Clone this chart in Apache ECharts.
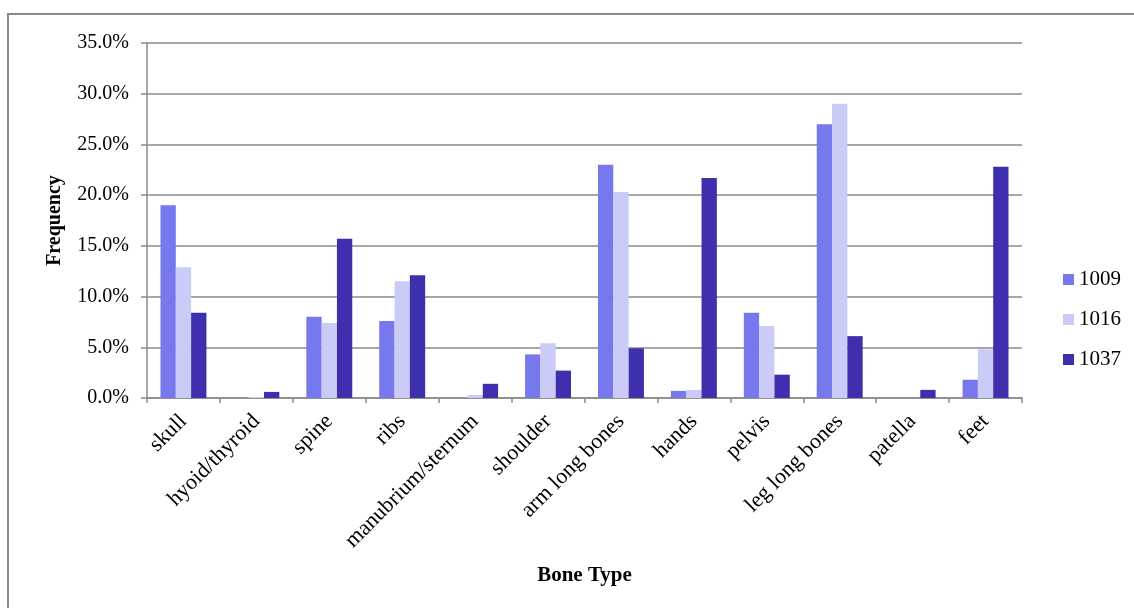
<!DOCTYPE html>
<html>
<head>
<meta charset="utf-8">
<title>Bone Type Frequency</title>
<script src="https://cdn.jsdelivr.net/npm/echarts@6/dist/echarts.min.js"></script>
<style>
  html, body { margin: 0; padding: 0; background: #ffffff; }
  #chart { width: 1134px; height: 608px; }
</style>
</head>
<body>
<div id="chart"></div>
<script>
// Bone categories along the x axis
const categories = ['skull', 'hyoid/thyroid', 'spine', 'ribs', 'manubrium/sternum', 'shoulder',
  'arm long bones', 'hands', 'pelvis', 'leg long bones', 'patella', 'feet'];

// Frequency (%) per bone type for each specimen
const s1009 = [19.0, 0.0, 8.0, 7.6, 0.0, 4.3, 23.0, 0.7, 8.4, 27.0, 0.0, 1.8];
const s1016 = [12.9, 0.1, 7.4, 11.5, 0.3, 5.4, 20.3, 0.8, 7.1, 29.0, 0.0, 4.8];
const s1037 = [8.4, 0.6, 15.7, 12.1, 1.4, 2.7, 4.9, 21.7, 2.3, 6.1, 0.8, 22.8];

const seriesNames = ['1009', '1016', '1037'];
const seriesColors = ['#7777ee', '#cbcbf7', '#3d2fae'];

// y axis ticks: 0.0% .. 35.0% every 5
const yMin = 0, yMax = 35, yStep = 5;

const FONT = '"Liberation Serif", "Times New Roman", serif';
const GRAY = '#8a8a8a';

const chart = echarts.init(document.getElementById('chart'), null, { renderer: 'canvas' });

const seriesData = [s1009, s1016, s1037];

chart.setOption({
  animation: false,
  backgroundColor: '#ffffff',
  textStyle: { fontFamily: FONT },
  graphic: [{
    type: 'rect',
    shape: { x: 8, y: 14, width: 1400, height: 900 },
    style: { fill: 'none', stroke: GRAY, lineWidth: 2 },
    silent: true,
    z: -10
  }],
  grid: { left: 147, right: 112, top: 43, bottom: 210, containLabel: false },
  legend: {
    orient: 'vertical',
    left: 1058,
    top: 264,
    itemWidth: 11,
    itemHeight: 11,
    itemGap: 19,
    icon: 'rect',
    data: seriesNames,
    textStyle: { fontFamily: FONT, fontSize: 21, color: '#000', lineHeight: 20 }
  },
  xAxis: {
    type: 'category',
    data: categories,
    name: 'Bone Type',
    nameLocation: 'middle',
    nameGap: 167,
    nameTextStyle: { fontFamily: FONT, fontSize: 21, fontWeight: 'bold', color: '#000' },
    axisLine: { lineStyle: { color: GRAY, width: 1.5 } },
    axisTick: { show: true, length: 5, lineStyle: { color: GRAY, width: 1.5 } },
    axisLabel: {
      interval: 0,
      rotate: 45,
      margin: 20,
      fontFamily: FONT,
      fontSize: 22,
      color: '#000'
    },
    splitLine: { show: false }
  },
  yAxis: {
    type: 'value',
    min: yMin,
    max: yMax,
    interval: yStep,
    name: 'Frequency',
    nameLocation: 'middle',
    nameRotate: 90,
    nameGap: 82,
    nameTextStyle: { fontFamily: FONT, fontSize: 20, fontWeight: 'bold', color: '#000' },
    axisLine: { show: true, lineStyle: { color: GRAY, width: 1.5 } },
    axisTick: { show: true, length: 6, lineStyle: { color: GRAY, width: 1.5 } },
    axisLabel: {
      margin: 18,
      fontFamily: FONT,
      fontSize: 20,
      color: '#000',
      formatter: v => v.toFixed(1) + '%'
    },
    splitLine: { show: true, lineStyle: { color: GRAY, width: 1.5 } }
  },
  series: seriesNames.map((name, i) => ({
    name: name,
    type: 'bar',
    data: seriesData[i],
    barGap: '0%',
    barCategoryGap: '37%',
    itemStyle: { color: seriesColors[i] }
  }))
});
</script>
</body>
</html>
